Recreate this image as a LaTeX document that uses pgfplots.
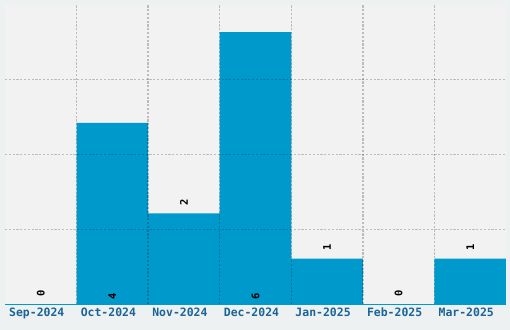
\documentclass[border=0pt]{standalone}
\usepackage{fontspec}
\usepackage{pgfplots}
\pgfplotsset{compat=1.18}
\newfontfamily\mono{DejaVu Sans Mono}
\definecolor{outerbg}{HTML}{EEF1F2}
\definecolor{plotbg}{HTML}{F2F2F2}
\definecolor{barc}{HTML}{0099CC}
\definecolor{tickc}{HTML}{1A6496}
\begin{document}
\begin{tikzpicture}
\fill[outerbg] (0,0) rectangle (510bp,330bp);
\begin{axis}[
  at={(5bp,26bp)}, anchor=south west,
  scale only axis, width=501bp, height=299bp,
  xmin=-0.5, xmax=6.5, ymin=0, ymax=6.6,
  axis background/.style={fill=plotbg},
  axis x line*=bottom, axis y line*=left,
  x axis line style={draw=barc, line width=1bp, -},
  y axis line style={draw=none},
  xtick={0,1,2,3,4,5,6},
  xticklabels={Sep-2024,Oct-2024,Nov-2024,Dec-2024,Jan-2025,Feb-2025,Mar-2025},
  minor xtick={0.5,1.5,2.5,3.5,4.5,5.5},
  xminorgrids=true,
  ytick={1.65,3.3,4.95}, yticklabels={}, ymajorgrids=true,
  major tick length=0pt, minor tick length=0pt,
  grid style={draw=black, opacity=0.22, line width=1.3bp, dash pattern=on 2.2bp off 1.6bp},
  minor grid style={draw=black, opacity=0.22, line width=1.3bp, dash pattern=on 2.2bp off 1.6bp},
  xticklabel style={font=\mono\bfseries\fontsize{11.5}{13}\selectfont, text=tickc, xshift=-4bp},
  axis on top,
  clip=false,
]
\addplot[ybar, bar width=1, fill=barc, draw=none] coordinates {
  (0,0) (1,4) (2,2) (3,6) (4,1) (5,0) (6,1)};
\addplot[draw=none, mark=none, point meta=explicit symbolic,
  nodes near coords,
  every node near coord/.style={anchor=center, rotate=90, inner sep=0pt, font=\mono\bfseries\fontsize{10.5}{12}\selectfont, text=black}]
  coordinates {
  (0,0.243)[0] (1,0.177)[4] (2,2.243)[2] (3,0.177)[6] (4,1.243)[1] (5,0.243)[0] (6,1.243)[1]};
\end{axis}
\pgfresetboundingbox
\useasboundingbox (0,0) rectangle (510bp,330bp);
\end{tikzpicture}
\end{document}
